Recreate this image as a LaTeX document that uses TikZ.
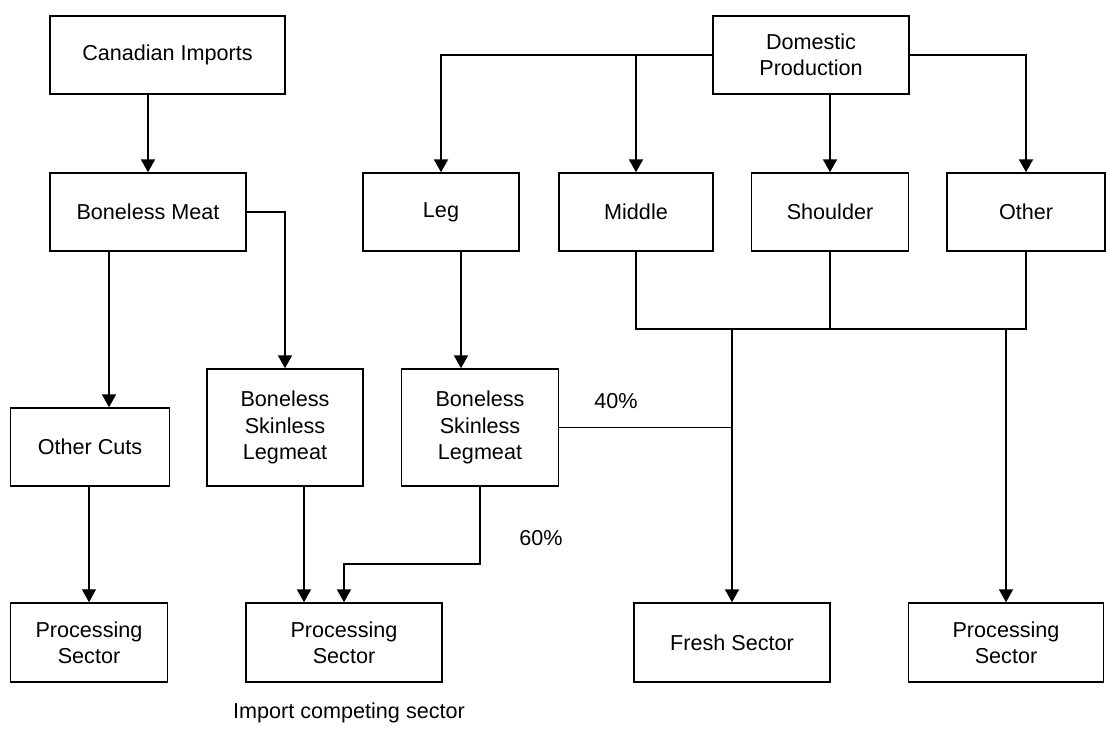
\documentclass[tikz,border=0pt]{standalone}
\usepackage{fontspec}
\setmainfont{Liberation Sans}
\usetikzlibrary{arrows.meta}
\begin{document}
\begin{tikzpicture}[x=1pt,y=-1pt,
  box/.style={draw, line width=1.5pt, inner sep=0pt, align=center,
    font=\fontsize{21.6}{26.3}\selectfont},
  lbl/.style={inner sep=0pt, font=\fontsize{21.6}{26.3}\selectfont},
  conn/.style={line width=2pt},
  thinline/.style={line width=1pt},
  arr/.style={line width=2pt, -{Triangle[length=13pt,width=14pt]}},
  arrthin/.style={line width=1.2pt, -{Triangle[length=13pt,width=14pt]}}]
\useasboundingbox (0,0) rectangle (1107,729);
\fill[white] (0,0) rectangle (1107,729);
% nodes
\node[box, minimum width=235pt, minimum height=78pt] (ci) at (167.5,55) {Canadian Imports};
\node[box, minimum width=196pt, minimum height=78pt] (dp) at (811,55) {Domestic\\Production};
\node[box, minimum width=196pt, minimum height=78pt] (bm) at (148,212) {Boneless Meat};
\node[box, minimum width=156pt, minimum height=78pt] (leg) at (441,212) {Leg};
\node[box, minimum width=154pt, minimum height=78pt] (middle) at (636,212) {Middle};
\node[box, minimum width=157pt, minimum height=78pt] (shoulder) at (830,212) {Shoulder};
\node[box, minimum width=158pt, minimum height=78pt] (other) at (1026,212) {Other};
\node[box, minimum width=159pt, minimum height=78pt] (oc) at (90,447) {Other Cuts};
\node[box, minimum width=156pt, minimum height=117pt] (bsl1) at (285,427.5) {Boneless\\Skinless\\Legmeat};
\node[box, minimum width=157pt, minimum height=117pt] (bsl2) at (480,427.5) {Boneless\\Skinless\\Legmeat};
\node[box, minimum width=157pt, minimum height=79pt] (p1) at (89,642.5) {Processing\\Sector};
\node[box, minimum width=196pt, minimum height=79pt] (p2) at (344,642.5) {Processing\\Sector};
\node[box, minimum width=196pt, minimum height=79pt] (fresh) at (732,642.5) {Fresh Sector};
\node[box, minimum width=195pt, minimum height=79pt] (p3) at (1006,642.5) {Processing\\Sector};
\node[lbl] (l40) at (616,401) {40\%};
\node[lbl] (l60) at (541,538) {60\%};
\node[lbl] (imp) at (349,713) {Import competing sector};
\coordinate (bus) at (700,329);
\coordinate (k60) at (400,564);
% connectors
\draw[arr] (ci.south -| bm.north) -- (bm.north);
\draw[arr] ([xshift=-39pt]bm.south) -- ([xshift=-39pt]bm.south |- oc.north);
\draw[arr] (bm.east) -| (bsl1.north);
\draw[arrthin] (oc.south -| p1.north) -- (p1.north);
\draw[arr] ([xshift=19pt]bsl1.south) -- ([xshift=19pt]bsl1.south |- p2.north);
\draw[arr] (bsl2.south) |- (k60) -| (p2.north);
\draw[arr] (dp.west) -| (leg.north);
\draw[arr] (dp.west -| middle.north) -- (middle.north);
\draw[arr] (dp.south -| shoulder.north) -- (shoulder.north);
\draw[arr] (dp.east) -| (other.north);
\draw[arr] ([xshift=20pt]leg.south) -- ([xshift=20pt]leg.south |- bsl2.north);
\draw[conn] (middle.south) -- (middle.south |- bus) -- (other.south |- bus) -- (other.south);
\draw[conn] (shoulder.south) -- (shoulder.south |- bus);
\draw[arr] (fresh.north |- bus) -- (fresh.north);
\draw[arr] (p3.north |- bus) -- (p3.north);
\draw[thinline] (bsl2.east) -- (bsl2.east -| fresh.north);
\end{tikzpicture}
\end{document}
